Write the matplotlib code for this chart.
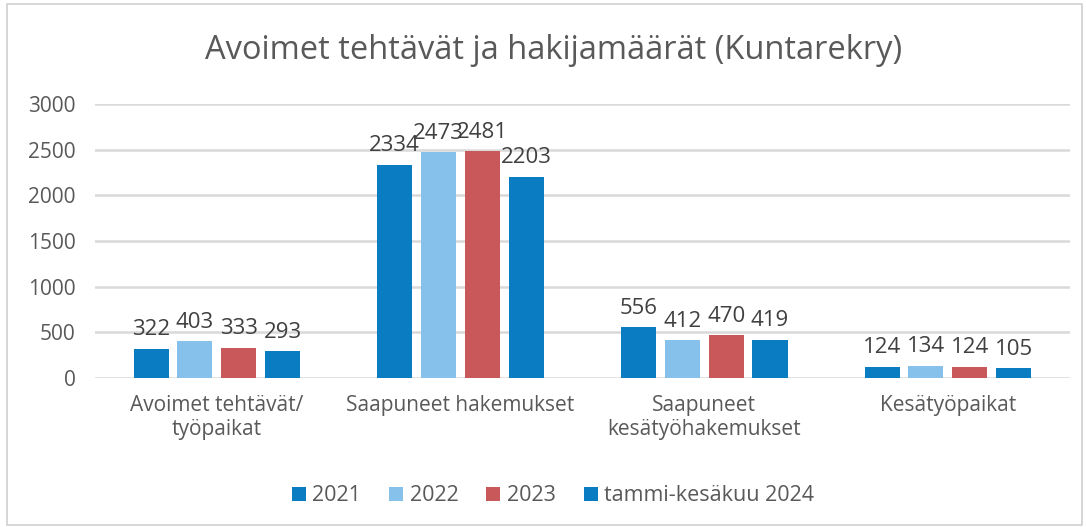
import matplotlib as mpl
mpl.use("Agg")
import matplotlib.pyplot as plt
import numpy as np
from matplotlib.patches import Rectangle

mpl.rcParams['font.family'] = ['Open Sans', 'DejaVu Sans']

categories = ["Avoimet tehtävät/\ntyöpaikat", "Saapuneet hakemukset",
              "Saapuneet\nkesätyöhakemukset", "Kesätyöpaikat"]
series = ["2021", "2022", "2023", "tammi-kesäkuu 2024"]
v2021 = [322, 2334, 556, 124]
v2022 = [403, 2473, 412, 134]
v2023 = [333, 2481, 470, 124]
v2024 = [293, 2203, 419, 105]
colors = ["#0A7DC2", "#85C1EA", "#C9585A", "#0A7DC2"]
yticks = [0, 500, 1000, 1500, 2000, 2500, 3000]

txt = "#595959"
fig = plt.figure(figsize=(10.86, 5.27), dpi=100)
ax = fig.add_axes([0.0875, 0.2827, 0.8975, 0.52])

x = np.arange(len(categories))
w = 0.144
pitch = 0.18
for i, (vals, col, name) in enumerate(zip([v2021, v2022, v2023, v2024], colors, series)):
    pos = x + (i - 1.5) * pitch
    bars = ax.bar(pos, vals, w, color=col, label=name, zorder=3)
    for b, v in zip(bars, vals):
        ax.annotate(str(v), (b.get_x() + b.get_width() / 2, v), xytext=(0, 6),
                    textcoords="offset points", ha="center", va="bottom",
                    fontsize=16, color="#404040")

ax.set_xlim(-0.5, 3.5)
ax.set_ylim(0, 3000)
ax.set_yticks(yticks)
ax.set_yticklabels([str(t) for t in yticks], fontsize=15, color=txt)
ax.set_xticks(x)
ax.set_xticklabels(categories, fontsize=15, color=txt, linespacing=1.2)
ax.tick_params(length=0)
ax.tick_params(axis='y', pad=14)
ax.tick_params(axis='x', pad=12)
ax.yaxis.grid(True, color="#D9D9D9", linewidth=1.8, zorder=0)
for s in ax.spines.values():
    s.set_visible(False)

fig.text(0.51, 0.905, "Avoimet tehtävät ja hakijamäärät (Kuntarekry)",
         ha="center", va="center", fontsize=23.5, color=txt)

ax.legend(loc="center", bbox_to_anchor=(0.47, -0.43), ncol=4, frameon=False,
          fontsize=15.5, labelcolor=txt, handlelength=0.65, handleheight=0.65,
          handletextpad=0.3, columnspacing=1.3)

fig.patches.append(Rectangle((0.006, 0.004), 0.99, 0.988, transform=fig.transFigure,
                             fill=False, edgecolor="#D0D0D0", linewidth=1.2))

fig.savefig("out.png", dpi=100)
